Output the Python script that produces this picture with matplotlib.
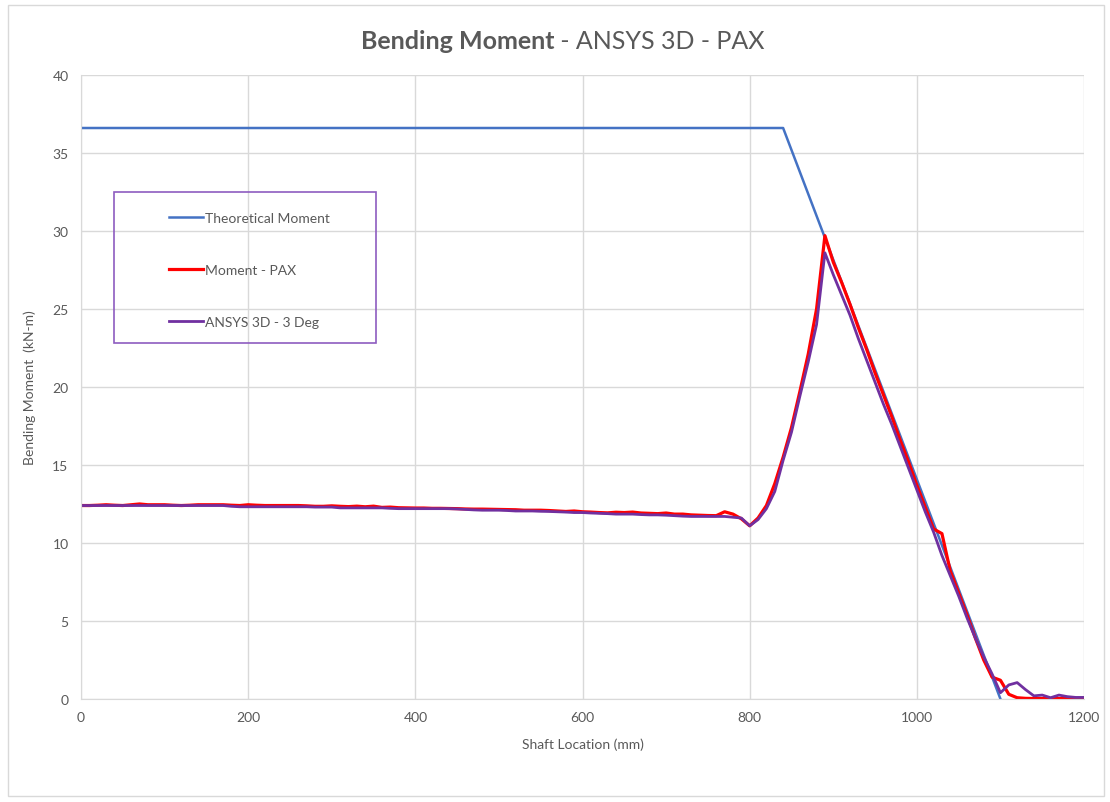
import matplotlib as mpl
import matplotlib.pyplot as plt
from matplotlib.patches import Rectangle
import numpy as np

mpl.rcParams['font.family'] = ['Lato', 'DejaVu Sans']

# shaft positions (mm), one point every 10 mm
x_mm = np.arange(0, 1201, 10)

theo_x = [0, 840, 1100]
theo_y = [36.6, 36.6, 0.0]

pax = [12.40, 12.40, 12.42, 12.45, 12.42, 12.40, 12.45, 12.50, 12.45, 12.45,
       12.45, 12.42, 12.40, 12.42, 12.45, 12.45, 12.45, 12.45, 12.42, 12.40,
       12.45, 12.42, 12.40, 12.40, 12.40, 12.40, 12.40, 12.38, 12.35, 12.35,
       12.38, 12.35, 12.33, 12.36, 12.32, 12.36, 12.28, 12.30, 12.26, 12.25,
       12.24, 12.24, 12.22, 12.22, 12.21, 12.20, 12.18, 12.17, 12.17, 12.16,
       12.15, 12.14, 12.13, 12.10, 12.10, 12.10, 12.08, 12.05, 12.02, 12.05,
       12.00, 11.98, 11.95, 11.93, 11.97, 11.95, 11.98, 11.92, 11.90, 11.88,
       11.92, 11.85, 11.85, 11.80, 11.78, 11.76, 11.75, 12.00, 11.85, 11.55,
       11.10, 11.60, 12.40, 13.80, 15.50, 17.40, 19.70, 22.10, 25.00, 29.70,
       28.00, 26.70, 25.30, 23.80, 22.40, 20.90, 19.50, 18.10, 16.60, 15.20,
       13.70, 12.30, 10.90, 10.60, 8.20, 6.80, 5.40, 3.90, 2.50, 1.40,
       1.20, 0.30, 0.08, 0.04, 0.03, 0.03, 0.03, 0.03, 0.03, 0.03,
       0.03]

ansys = [12.40, 12.40, 12.40, 12.40, 12.40, 12.40, 12.40, 12.40, 12.40, 12.40,
         12.40, 12.40, 12.40, 12.40, 12.40, 12.40, 12.40, 12.40, 12.35, 12.32,
         12.32, 12.32, 12.32, 12.32, 12.32, 12.32, 12.32, 12.32, 12.30, 12.30,
         12.30, 12.25, 12.25, 12.25, 12.25, 12.25, 12.25, 12.22, 12.20, 12.20,
         12.20, 12.20, 12.20, 12.20, 12.20, 12.18, 12.15, 12.12, 12.10, 12.10,
         12.10, 12.08, 12.05, 12.05, 12.05, 12.03, 12.02, 12.00, 11.98, 11.95,
         11.95, 11.92, 11.90, 11.88, 11.85, 11.85, 11.85, 11.82, 11.80, 11.80,
         11.78, 11.75, 11.72, 11.70, 11.70, 11.70, 11.70, 11.70, 11.65, 11.60,
         11.10, 11.50, 12.20, 13.30, 15.30, 17.10, 19.40, 21.60, 24.00, 28.60,
         27.20, 25.90, 24.60, 23.10, 21.70, 20.30, 18.90, 17.60, 16.20, 14.80,
         13.40, 12.00, 10.70, 9.20, 7.90, 6.60, 5.20, 3.90, 2.70, 1.60,
         0.40, 0.90, 1.05, 0.60, 0.20, 0.25, 0.08, 0.25, 0.15, 0.10,
         0.10]

grey = '#595959'
gridc = '#d9d9d9'

fig = plt.figure(figsize=(11.1, 8.03), dpi=100)
ax = fig.add_axes([0.073, 0.1283, 0.9036, 0.7771])

ax.plot(theo_x, theo_y, color='#4472C4', lw=1.8, label='Theoretical Moment')
ax.plot(x_mm, pax, color='#FF0000', lw=2.3, label='Moment - PAX')
ax.plot(x_mm, ansys, color='#7030A0', lw=2.0, label='ANSYS 3D - 3 Deg')

ax.set_xlim(0, 1200)
ax.set_ylim(0, 40)
ax.set_xticks(np.arange(0, 1201, 200))
ax.set_yticks(np.arange(0, 41, 5))
ax.grid(True, color=gridc, lw=1.0)
ax.set_axisbelow(True)
for s in ['top', 'right']:
    ax.spines[s].set_visible(False)
for s in ['left', 'bottom']:
    ax.spines[s].set_color(gridc)
ax.tick_params(length=0, labelsize=10, colors=grey, pad=9)

ax.set_xlabel('Shaft Location (mm)', fontsize=10, color=grey, labelpad=10)
ax.set_ylabel('Bending Moment  (kN-m)', fontsize=10, color=grey, labelpad=12)

# legend in a separate purple box
ax.add_patch(Rectangle((0.033, 0.5705), 0.261, 0.242, transform=ax.transAxes,
                       fill=False, edgecolor='#8E5CC0', lw=1.2, zorder=5))
leg = ax.legend(loc='upper left', bbox_to_anchor=(0.088, 0.781), frameon=False,
                fontsize=10, labelspacing=2.9, handlelength=2.4,
                handletextpad=0.2, borderpad=0, borderaxespad=0)
for t in leg.get_texts():
    t.set_color(grey)

# title: bold part + regular part, centered together
t1 = fig.text(0, 0.948, 'Bending Moment', fontsize=18, weight='bold', color=grey,
              va='center')
t2 = fig.text(0, 0.948, ' - ANSYS 3D - PAX', fontsize=18, color=grey, va='center')
fig.canvas.draw()
r = fig.canvas.get_renderer()
w1 = t1.get_window_extent(r).width / fig.bbox.width
w2 = t2.get_window_extent(r).width / fig.bbox.width
x0 = 0.507 - (w1 + w2) / 2
t1.set_x(x0)
t2.set_x(x0 + w1)

fig.patches.append(Rectangle((0.007, 0.008), 0.988, 0.984, transform=fig.transFigure,
                             fill=False, edgecolor=gridc, lw=1.0))

fig.savefig('out.png', dpi=100)
